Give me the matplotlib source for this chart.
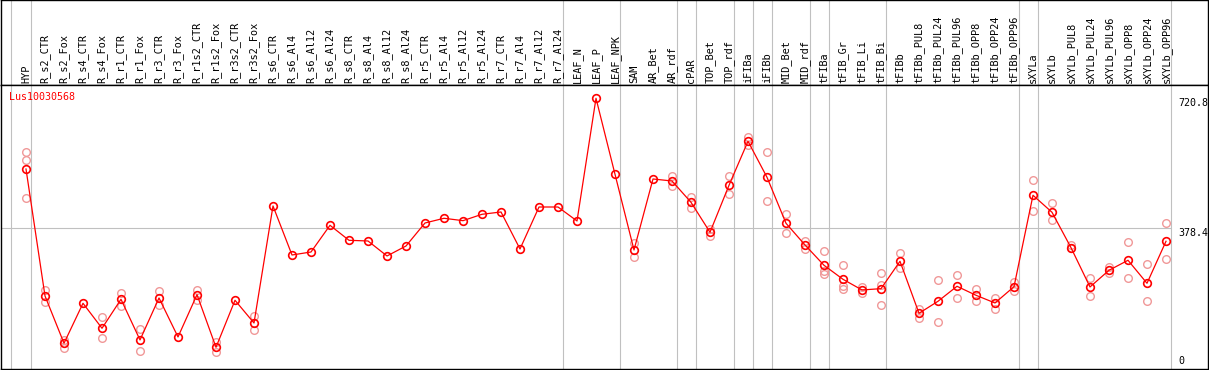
import numpy as np
import matplotlib
matplotlib.use("Agg")
import matplotlib.pyplot as plt

# Nome del gene e campioni
gene = "Lus10030568"

campioni = ["HYP", "R_s2_CTR", "R_s2_Fox", "R_s4_CTR", "R_s4_Fox", "R_r1_CTR", "R_r1_Fox",
            "R_r3_CTR", "R_r3_Fox", "R_r1s2_CTR", "R_r1s2_Fox", "R_r3s2_CTR", "R_r3s2_Fox",
            "R_s6_CTR", "R_s6_Al4", "R_s6_Al12", "R_s6_Al24", "R_s8_CTR", "R_s8_Al4",
            "R_s8_Al12", "R_s8_Al24", "R_r5_CTR", "R_r5_Al4", "R_r5_Al12", "R_r5_Al24",
            "R_r7_CTR", "R_r7_Al4", "R_r7_Al12", "R_r7_Al24", "LEAF_N", "LEAF_P", "LEAF_NPK",
            "SAM", "AR_Bet", "AR_rdf", "cPAR", "TOP_Bet", "TOP_rdf", "iFIBa", "iFIBb",
            "MID_Bet", "MID_rdf", "tFIBa", "tFIB_Gr", "tFIB_Li", "tFIB_Bi", "tFIBb",
            "tFIBb_PUL8", "tFIBb_PUL24", "tFIBb_PUL96", "tFIBb_OPP8", "tFIBb_OPP24",
            "tFIBb_OPP96", "sXYLa", "sXYLb", "sXYLb_PUL8", "sXYLb_PUL24", "sXYLb_PUL96",
            "sXYLb_OPP8", "sXYLb_OPP24", "sXYLb_OPP96"]

# dimensione dei gruppi (linee grigie di separazione)
gruppi = [1, 28, 3, 3, 1, 2, 1, 1, 2, 1, 3, 7, 1, 7]

# valori medi
media = [534.6, 200.2, 75.6, 180.9, 115.1, 191.5, 84.3, 194.9, 92.2, 203.6, 65.0, 188.8, 129.0,
         437.2, 308.1, 316.0, 386.3, 346.8, 345.0, 305.5, 331.8, 392.4, 404.8, 398.5, 415.3,
         421.4, 323.9, 434.5, 434.5, 397.7, 720.8, 520.7,
         321.3, 508.3, 503.0, 446.9, 367.9, 491.7, 607.6, 512.8,
         391.6, 334.5, 281.0, 244.1, 216.0, 219.4, 291.5,
         154.6, 186.2, 225.7, 202.0, 181.7, 224.6,
         465.4, 420.6, 327.4, 223.9, 267.8, 294.2, 233.6, 344.2]

# repliche
repliche = [[578.6, 557.5, 458.2], [215.2, 185.1], [84.3, 63.2], [], [144.1, 88.8],
            [208.1, 174.6], [112.5, 55.3], [212.5, 176.5], [], [216.7, 189.6],
            [79.8, 51.9], [], [147.5, 109.8],
            [], [], [], [], [], [], [], [], [], [], [], [], [], [], [], [], [], [], [],
            [338.9, 303.7], [], [516.2, 489.9], [460.9, 431.9], [376.6, 358.2],
            [515.4, 468.0], [619.7, 597.8], [579.4, 449.6],
            [415.3, 365.3], [345.8, 323.1], [317.9, 266.8, 257.3], [281.0, 226.5, 218.6],
            [224.6, 207.3], [259.9, 228.3, 175.7], [313.4, 273.1],
            [165.1, 143.0], [241.5, 130.9], [254.7, 194.1], [217.8, 186.2],
            [194.1, 166.7], [237.0, 212.5],
            [504.9, 424.0], [444.3, 399.5], [333.7, 325.8], [247.6, 199.4],
            [277.3, 261.5], [341.6, 246.8], [284.4, 187.0], [391.6, 297.6]]

etichette_y = ["720.8", "378.4", "0"]
livello_max = 720.8
livello_mid = 378.4

# scala: pixel 98.3 -> 720.8, pixel 228.3 -> 378.4
k = (228.3 - 98.3) / (livello_max - livello_mid)
y0 = 228.3 + livello_mid * k
ylim = ((y0 - 369) / k, (y0 - 85) / k)
xlim = ((1 - 26) / 19, (1208 - 26) / 19)

x = np.arange(len(campioni))
separatori = [-0.8] + list(np.cumsum(gruppi) - 1 + 0.25)

W, H = 1209, 370
fig = plt.figure(figsize=(W / 100, H / 100), dpi=100)
ax_lab = fig.add_axes([1 / W, (H - 85) / H, 1207 / W, 85 / H])
ax = fig.add_axes([1 / W, 1 / H, 1207 / W, 284 / H])

grigio = "#c0c0c0"
mono = "DejaVu Sans Mono"

for a in (ax, ax_lab):
    a.set_xlim(xlim)
    a.set_xticks([])
    a.set_yticks([])
    for s in a.spines.values():
        s.set_color("black")
        s.set_linewidth(1)
    for sx in separatori:
        a.axvline(sx, color=grigio, lw=0.8, zorder=0)

ax_lab.set_ylim(0, 1)
for i, nome in enumerate(campioni):
    ax_lab.text(i, 0.025, nome, rotation=90, ha="center", va="bottom",
                fontsize=7.4, family=mono)

ax.set_ylim(ylim)
ax.hlines(livello_mid, xlim[0], separatori[-1], color=grigio, lw=0.8, zorder=0)

# repliche (cerchi chiari)
for i, reps in enumerate(repliche):
    if reps:
        ax.plot([i] * len(reps), reps, linestyle="none", marker="o", ms=5.5,
                mfc="none", mec="#f09898", mew=1.0, zorder=2)

# media
ax.plot(x, media, color="red", lw=0.9, marker="o", ms=5.5, mfc="none",
        mec="red", mew=1.2, zorder=3)

ax.text(-0.87, (y0 - 92) / k, gene, color="red", ha="left", va="top",
        fontsize=7.2, family=mono)

xr = (1178 - 26) / 19
ax.text(xr, livello_max, etichette_y[0], ha="left", va="top", fontsize=7.2, family=mono)
ax.text(xr, livello_mid, etichette_y[1], ha="left", va="top", fontsize=7.2, family=mono)
ax.text(xr, (y0 - 366) / k, etichette_y[2], ha="left", va="bottom", fontsize=7.2, family=mono)

plt.savefig("out.png", dpi=100)
